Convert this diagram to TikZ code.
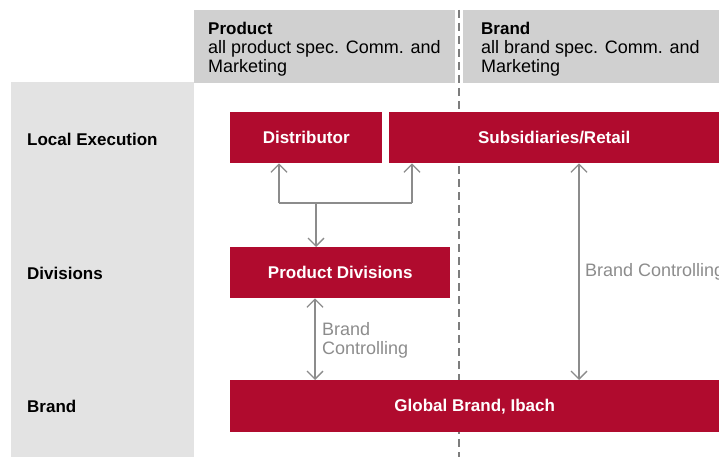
\documentclass[tikz,border=0pt]{standalone}
\usepackage{fontspec}
\setmainfont{Liberation Sans}
\usetikzlibrary{arrows.meta}
\definecolor{ibachred}{RGB}{176,11,46}
\definecolor{paneltone}{RGB}{227,227,227}
\definecolor{headtone}{RGB}{208,208,208}
\definecolor{linetone}{RGB}{140,140,140}
\definecolor{dashtone}{RGB}{125,125,125}

\begin{document}
\begin{tikzpicture}[
x=1pt,y=-1pt,
redbox/.style={
  fill=ibachred,
  text=white,
  font=\bfseries\fontsize{17}{19}\selectfont,
  anchor=north west,
  minimum height=51pt,
  inner sep=0pt
  },
rowlabel/.style={font=\bfseries\fontsize{17}{19}\selectfont,anchor=base west,inner sep=0pt},
headtext/.style={font=\fontsize{18}{19}\selectfont,align=left,anchor=north west,inner sep=0pt},
ctrl/.style={text=linetone,font=\fontsize{18}{19}\selectfont,align=left,inner sep=0pt},
link/.style={draw=linetone,line width=1.3pt},
>={Straight Barb[length=8pt,width=16pt]}
]
\useasboundingbox (0,0) rectangle (719,457);
\clip (0,0) rectangle (719,457);

% background panels
\fill[paneltone] (11,82) rectangle (194,457);
\fill[headtone] (194,10) rectangle (455,83);
\fill[headtone] (463,10) rectangle (719,83);
\draw[dashtone,line width=2.5pt,dash pattern=on 8pt off 5pt] (459,10) -- (459,457);

\node[headtext] (hprod) at (208,22) {{\bfseries\fontsize{17}{19}\selectfont Product}\\all product spec. Comm. and\\Marketing};
\node[headtext] (hbrand) at (481,22) {{\bfseries\fontsize{17}{19}\selectfont Brand}\\all brand spec. Comm. and\\Marketing};

% row labels
\foreach \Y/\Name/\Text in {146/lloc/Local Execution,279/ldiv/Divisions,412/lbrand/Brand}
  \node[rowlabel] (\Name) at (27,\Y) {\Text};

% red boxes
\node[redbox,minimum width=152pt] (dist) at (230,112) {Distributor};
\node[redbox,minimum width=330pt] (subs) at (389,112) {Subsidiaries/Retail};
\node[redbox,minimum width=220pt] (prod) at (230,247) {Product Divisions};
\node[redbox,minimum width=489pt,minimum height=52pt] (glob) at (230,380) {Global Brand, Ibach};

\coordinate (fork) at (316,203);
\coordinate (forkl) at (279,203);
\coordinate (forkr) at (412,203);
\coordinate (bcl) at (315,340);
\coordinate (bcr) at (579,270);

\path[link]
	(forkl) edge[->] (forkl |- dist.south)
	(forkr) edge[->] (forkr |- subs.south)
	(forkl) edge (forkr)
	(fork) edge[->] (fork |- prod.north)
	(bcl |- prod.south) edge[<->] (bcl |- glob.north)
	(bcr |- subs.south) edge[<->] (bcr |- glob.north);

\node[ctrl,anchor=north west] (ctl) at (322,322) {Brand\\Controlling};
\node[ctrl,anchor=base west] (ctr) at (585,276) {Brand Controlling};
\end{tikzpicture}
\end{document}
